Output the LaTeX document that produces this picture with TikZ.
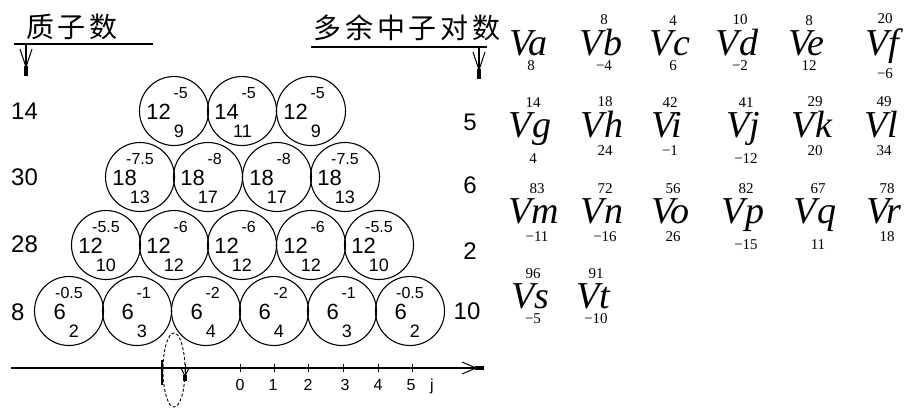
\documentclass[tikz,border=0pt]{standalone}
\usepackage{fontspec}
\setmainfont{Liberation Serif}
\setsansfont{Liberation Sans}
\newfontfamily\cjkfont[LetterSpace=14]{Noto Sans CJK SC}
\usetikzlibrary{positioning}

\begin{document}
\begin{tikzpicture}[x=1pt, y=-1pt,
  ball/.style={circle, draw, line width=1.1pt, minimum size=69pt, inner sep=0pt},
  mainnum/.style={font=\sffamily\fontsize{22}{22}\selectfont, inner sep=0pt, anchor=east},
  supnum/.style={font=\sffamily\fontsize{16}{16}\selectfont, inner sep=0pt, anchor=east},
  subnum/.style={font=\sffamily\fontsize{18}{18}\selectfont, inner sep=0pt, anchor=east},
  sidenum/.style={font=\sffamily\fontsize{24}{24}\selectfont, inner sep=0pt},
  axisnum/.style={font=\sffamily\fontsize{16}{16}\selectfont, inner sep=0pt},
  headtext/.style={font=\cjkfont\fontsize{28}{28}\selectfont, inner sep=0pt},
  vname/.style={font=\itshape\fontsize{38}{38}\selectfont, inner sep=0pt, anchor=base},
  vnum/.style={font=\fontsize{15}{15}\selectfont, inner sep=0pt},
  barb/.style={line width=1pt},
]
\useasboundingbox (0,0) rectangle (904,407);

\def\nucleus#1#2#3#4#5{%
  \node[ball] (#1) at (#2) {};
  \node[mainnum] (#1m) at ([shift={(-3,1)}]#1.center) {#3};
  \node[supnum] (#1u) at ([shift={(14,-18)}]#1.center) {#4};
  \node[subnum] (#1d) at ([shift={(10,20)}]#1.center) {#5};
}
\def\ventry#1#2#3#4#5#6{%
  \node[vname] (#1) at (#2) {#3};
  \node[vnum, above=4pt of #1, xshift=3pt] (#1u) {#4};
  \node[vnum, below=#6 of #1, xshift=3pt] (#1d) {#5};
}

\coordinate (headL1) at (14,44);
\coordinate (headL2) at (153,44);
\coordinate (headR1) at (311,47);
\coordinate (headR2) at (487,47);
\coordinate (downL) at (26,44);
\coordinate (downLend) at (26,76);
\coordinate (downR) at (479,47);
\coordinate (downRend) at (479,79);
\coordinate (axL) at (11,368);
\coordinate (axR) at (484,368);
\coordinate (mark) at (162,360);
\coordinate (markend) at (162,385);
\coordinate (pin) at (185,364);
\coordinate (pinend) at (185,381);

\node[headtext] (protons) at (72,27) {质子数};
\node[headtext] (excess) at (407,28) {多余中子对数};
\draw[line width=1.6pt] (headL1) -- (headL2);
\draw[line width=1.6pt] (headR1) -- (headR2);

\draw[line width=1.2pt] (downL) -- (downLend);
\draw[barb] ([shift={(-6,-27)}]downLend) -- ([shift={(0,-9)}]downLend) -- ([shift={(6,-27)}]downLend);
\fill ([shift={(-2.2,-10)}]downLend) rectangle ([shift={(2.2,0)}]downLend);
\draw[line width=1.2pt] (downR) -- (downRend);
\draw[barb] ([shift={(-6,-27)}]downRend) -- ([shift={(0,-9)}]downRend) -- ([shift={(6,-27)}]downRend);
\fill ([shift={(-2.2,-10)}]downRend) rectangle ([shift={(2.2,0)}]downRend);

\nucleus{n11}{174,111}{12}{-5}{9}
\nucleus{n12}{242,111}{14}{-5}{11}
\nucleus{n13}{311,111}{12}{-5}{9}
\nucleus{n21}{140,177}{18}{-7.5}{13}
\nucleus{n22}{208,177}{18}{-8}{17}
\nucleus{n23}{277,177}{18}{-8}{17}
\nucleus{n24}{345,177}{18}{-7.5}{13}
\nucleus{n31}{106,245}{12}{-5.5}{10}
\nucleus{n32}{174,245}{12}{-6}{12}
\nucleus{n33}{242,245}{12}{-6}{12}
\nucleus{n34}{311,245}{12}{-6}{12}
\nucleus{n35}{379,245}{12}{-5.5}{10}
\nucleus{n41}{69,311}{6}{-0.5}{2}
\nucleus{n42}{137,311}{6}{-1}{3}
\nucleus{n43}{206,311}{6}{-2}{4}
\nucleus{n44}{274,311}{6}{-2}{4}
\nucleus{n45}{342,311}{6}{-1}{3}
\nucleus{n46}{410,311}{6}{-0.5}{2}

\node[sidenum, anchor=west] (p1) at (11,111) {14};
\node[sidenum, anchor=west] (p2) at (11,177) {30};
\node[sidenum, anchor=west] (p3) at (11,244) {28};
\node[sidenum, anchor=west] (p4) at (11,312) {8};
\node[sidenum] (e1) at (470,122) {5};
\node[sidenum] (e2) at (470,185) {6};
\node[sidenum] (e3) at (470,251) {2};
\node[sidenum] (e4) at (467,311) {10};

\draw[line width=1.5pt] (axL) -- (axR);
\draw[barb] ([shift={(-22,-6)}]axR) -- ([shift={(-8,0)}]axR) -- ([shift={(-22,6)}]axR);
\fill ([shift={(-9,-2.2)}]axR) rectangle ([shift={(0,2.2)}]axR);
\draw[line width=1.2pt] (mark) -- (markend);
\draw[line width=1pt] (pin) -- (pinend);
\draw[barb] ([shift={(-3.5,-12)}]pinend) -- ([shift={(0,-5)}]pinend) -- ([shift={(3.5,-12)}]pinend);
\fill ([shift={(-2,-6)}]pinend) rectangle ([shift={(2,0)}]pinend);
\draw[line width=0.9pt, dash pattern=on 3pt off 2pt] (174,370) ellipse [x radius=11pt, y radius=37pt];
\draw (240,364) -- (240,372);
\draw (274,364) -- (274,372);
\draw (308,364) -- (308,372);
\draw (343,364) -- (343,372);
\draw (378,364) -- (378,372);
\draw (412,364) -- (412,372);
\node[axisnum] (j0) at (240,385) {0};
\node[axisnum] (j1) at (273,385) {1};
\node[axisnum] (j2) at (308,385) {2};
\node[axisnum] (j3) at (345,385) {3};
\node[axisnum] (j4) at (378,385) {4};
\node[axisnum] (j5) at (411,385) {5};
\node[axisnum] (jlab) at (432,386) {j};

\node[vname] (Va) at (528,55) {Va};
\node[vnum, below=5pt of Va, xshift=3pt] (Vad) {8};
\ventry{Vb}{601,55}{Vb}{8}{−4}{5pt}
\ventry{Vc}{670,55}{Vc}{4}{6}{5pt}
\ventry{Vd}{737,55}{Vd}{10}{−2}{5pt}
\ventry{Ve}{806,55}{Ve}{8}{12}{5pt}
\ventry{Vf}{882,55}{Vf}{20}{−6}{5pt}
\ventry{Vg}{530,137}{Vg}{14}{4}{8pt}
\ventry{Vh}{602,137}{Vh}{18}{24}{8pt}
\ventry{Vi}{667,137}{Vi}{42}{−1}{8pt}
\ventry{Vj}{743,137}{Vj}{41}{−12}{8pt}
\ventry{Vk}{812,137}{Vk}{29}{20}{8pt}
\ventry{Vl}{881,137}{Vl}{49}{34}{8pt}
\ventry{Vm}{534,223}{Vm}{83}{−11}{8pt}
\ventry{Vn}{602,223}{Vn}{72}{−16}{8pt}
\ventry{Vo}{670,223}{Vo}{56}{26}{8pt}
\ventry{Vp}{743,223}{Vp}{82}{−15}{8pt}
\ventry{Vq}{815,223}{Vq}{67}{11}{8pt}
\ventry{Vr}{884,223}{Vr}{78}{18}{8pt}
\ventry{Vs}{530,308}{Vs}{96}{−5}{5pt}
\ventry{Vt}{593,308}{Vt}{91}{−10}{5pt}
\end{tikzpicture}
\end{document}
